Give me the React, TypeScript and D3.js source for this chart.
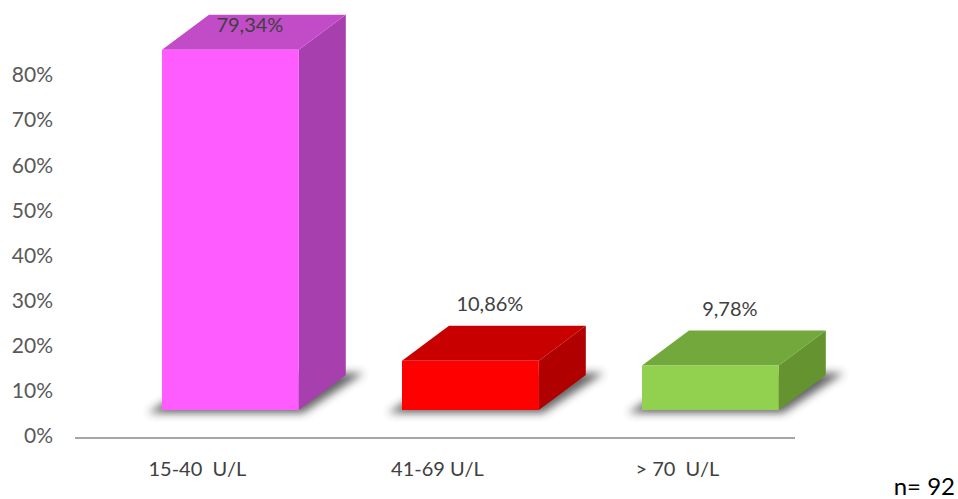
import React from "react";
import * as d3 from "d3";

const categories = ["15-40  U/L", "41-69 U/L", "> 70  U/L"];
const values = [79.34, 10.86, 9.78];
const valueLabels = ["79,34%", "10,86%", "9,78%"];
const tickValues = [0, 10, 20, 30, 40, 50, 60, 70, 80];
const frontColors = ["#FF5CFF", "#FF0000", "#92D050"];
const topColors = ["#C24CC8", "#C80000", "#73A83C"];
const sideColors = ["#A83FAE", "#B00000", "#64932F"];

const W = 958;
const H = 499;
const DX = 47;
const DY = -35;
const BASE = 410;

export default function App() {
  const x = d3.scaleBand<string>().domain(categories).range([110.4, 830.4]).paddingInner(0.43).paddingOuter(0.215);
  const yBar = d3.scaleLinear().domain([0, 100]).range([BASE, BASE - 454]);
  const yAxis = d3.scaleLinear().domain([0, 80]).range([438, 77]);
  const font = "Lato, 'Open Sans', sans-serif";

  return (
    <svg width={W} height={H} style={{ position: "absolute", left: 0, top: 0, background: "#fff" }}>
      <defs>
        <filter id="blur" x="-30%" y="-100%" width="160%" height="300%">
          <feGaussianBlur stdDeviation="4" />
        </filter>
        <filter id="lineblur" x="-5%" y="-200%" width="110%" height="500%">
          <feGaussianBlur stdDeviation="1" />
        </filter>
      </defs>
      {/* axis line */}
      <line x1={75} x2={795} y1={439.5} y2={439.5} stroke="#cfcfcf" strokeWidth={2} filter="url(#lineblur)" />
      <line x1={75} x2={795} y1={438} y2={438} stroke="#a6a6a6" strokeWidth={2} />
      {/* tick labels */}
      {tickValues.map((t) => (
        <text key={t} x={53} y={yAxis(t)} textAnchor="end" dominantBaseline="middle" fontFamily={font} fontSize={21} fill="#595959">
          {t}%
        </text>
      ))}
      {/* bars */}
      {categories.map((c, i) => {
        const x0 = x(c)!;
        const x1 = x0 + x.bandwidth();
        const yt = yBar(values[i]);
        const yb = yBar(0);
        const shadow = `${x0 - 14},${yb + 3} ${x1 + 4},${yb + 3} ${x1 + DX + 18},${yb + DY - 2} ${x0 + DX},${yb + DY - 2}`;
        const front = `${x0},${yt} ${x1},${yt} ${x1},${yb} ${x0},${yb}`;
        const top = `${x0},${yt} ${x0 + DX},${yt + DY} ${x1 + DX},${yt + DY} ${x1},${yt}`;
        const side = `${x1},${yt} ${x1 + DX},${yt + DY} ${x1 + DX},${yb + DY} ${x1},${yb}`;
        return (
          <g key={c}>
            <polygon points={shadow} fill="#333" opacity={0.75} filter="url(#blur)" />
            <polygon points={side} fill={sideColors[i]} />
            <polygon points={top} fill={topColors[i]} />
            <polygon points={front} fill={frontColors[i]} />
          </g>
        );
      })}
      {/* value labels */}
      {categories.map((c, i) => {
        const cx = x(c)! + x.bandwidth() / 2 + DX / 2 - 4;
        const yTopBack = yBar(values[i]) + DY;
        const yl = Math.max(yTopBack - 15, 32);
        return (
          <text key={c} x={cx} y={yl} textAnchor="middle" fontFamily={font} fontSize={20} fill="#404040">
            {valueLabels[i]}
          </text>
        );
      })}
      {/* category labels */}
      {categories.map((c) => (
        <text key={c} x={x(c)! + x.bandwidth() / 2 - 33} y={476} textAnchor="middle" fontFamily={font} fontSize={20} fill="#404040" style={{ whiteSpace: "pre" }}>
          {c}
        </text>
      ))}
      <text x={955} y={495} textAnchor="end" fontFamily={font} fontSize={24} fill="#000">
        n= 92
      </text>
    </svg>
  );
}
